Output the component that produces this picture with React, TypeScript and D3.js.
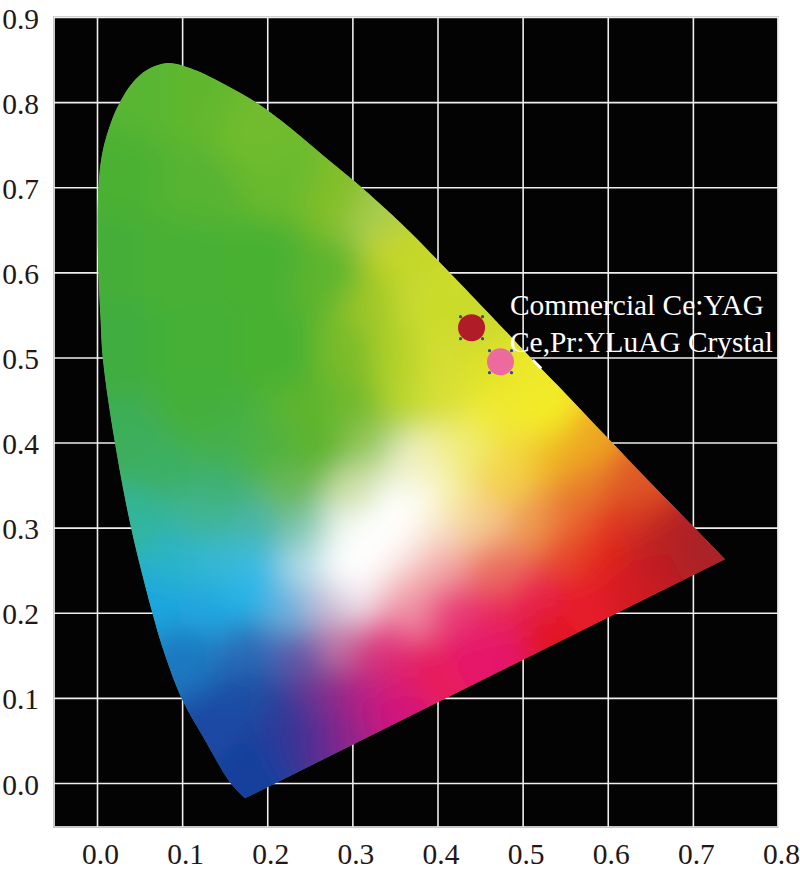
import React, { useEffect, useRef } from 'react';
import * as d3 from 'd3';

// spectral locus, from the violet corner round to the red corner
const locusX = [
  0.174, 0.156, 0.127, 0.1, 0.078, 0.065, 0.04, 0.021, 0.007, 0.004, 0.001, 0.002, 0.007, 0.019, 0.028, 0.041, 0.059,
  0.083, 0.109, 0.148, 0.188, 0.227, 0.265, 0.305, 0.344, 0.368, 0.415, 0.462, 0.482, 0.512, 0.552, 0.599, 0.65, 0.7, 0.738,
];
const locusY = [
  -0.018, 0.001, 0.05, 0.098, 0.156, 0.2, 0.3, 0.4, 0.497, 0.548, 0.626, 0.705, 0.744, 0.783, 0.802, 0.822, 0.838,
  0.846, 0.84, 0.822, 0.799, 0.77, 0.738, 0.705, 0.67, 0.647, 0.599, 0.55, 0.529, 0.497, 0.456, 0.4065, 0.353, 0.302, 0.263,
];

// colour samples inside the diagram
const fieldX = [
  0.06, 0.11, 0.18, 0.03, 0.12, 0.22, 0.29, 0.32, 0.01, 0.1, 0.2, 0.28, 0.35, 0.33, 0.37, 0.41, 0.44,
  0.02, 0.12, 0.22, 0.3, 0.35, 0.4, 0.46, 0.5, 0.12, 0.25, 0.305, 0.364, 0.395, 0.473, 0.52,
  0.03, 0.07, 0.148, 0.15, 0.2, 0.265, 0.32, 0.364, 0.395, 0.435, 0.49, 0.532, 0.57,
  0.227, 0.305, 0.345, 0.385, 0.415, 0.473, 0.571, 0.62, 0.63,
  0.05, 0.13, 0.188, 0.247, 0.29, 0.33, 0.395, 0.453, 0.512, 0.56, 0.6, 0.65, 0.7,
  0.09, 0.14, 0.188, 0.247, 0.285, 0.33, 0.364, 0.395, 0.473, 0.552, 0.599, 0.65,
  0.07, 0.125, 0.183, 0.23, 0.27, 0.305, 0.352, 0.364, 0.415, 0.473, 0.512, 0.571, 0.63,
  0.105, 0.183, 0.242, 0.282, 0.32, 0.344, 0.36, 0.4, 0.435, 0.473, 0.524,
  0.144, 0.183, 0.223, 0.262, 0.3, 0.34, 0.183, 0.242, 0.27, 0.3,
  0.31, 0.36, 0.31, 0.38,
];
const fieldY = [
  0.8, 0.8, 0.76, 0.72, 0.7, 0.7, 0.68, 0.665, 0.62, 0.62, 0.62, 0.6, 0.62, 0.57, 0.57, 0.56, 0.53,
  0.5, 0.5, 0.5, 0.5, 0.5, 0.5, 0.49, 0.47, 0.44, 0.44, 0.44, 0.45, 0.45, 0.43, 0.43,
  0.4, 0.37, 0.352, 0.4, 0.39, 0.39, 0.4, 0.375, 0.38, 0.39, 0.39, 0.383, 0.39,
  0.34, 0.344, 0.32, 0.34, 0.332, 0.352, 0.352, 0.35, 0.315,
  0.31, 0.312, 0.3, 0.294, 0.29, 0.28, 0.294, 0.305, 0.305, 0.31, 0.3, 0.289, 0.277,
  0.26, 0.26, 0.254, 0.254, 0.258, 0.25, 0.27, 0.254, 0.254, 0.274, 0.262, 0.25,
  0.21, 0.203, 0.223, 0.203, 0.21, 0.22, 0.235, 0.2, 0.2, 0.195, 0.215, 0.215, 0.235,
  0.153, 0.153, 0.153, 0.165, 0.145, 0.171, 0.145, 0.136, 0.156, 0.156, 0.176,
  0.066, 0.106, 0.086, 0.106, 0.106, 0.086, 0.027, 0.059, 0.059, 0.066,
  0.29, 0.31, 0.25, 0.31,
];
const fieldColour = [
  '#58b631', '#60b72f', '#6fbb2d', '#4cb133', '#56b431', '#6aba2d', '#84bf2a', '#a8cc50', '#45ae37', '#46b035', '#4ab133', '#5fb52f', '#c4d62c', '#a0c82a', '#c8da2e', '#ccdc2c', '#cbd92d',
  '#40ad3f', '#45b035', '#4ab132', '#7abc2c', '#b0d02c', '#d4de30', '#e0e22c', '#eee82c', '#44af3a', '#5db52e', '#72b92d', '#b8d62e', '#d8e038', '#f0ea30', '#f4ec28',
  '#3cae5a', '#3caf62', '#3fb070', '#45b048', '#50b240', '#5fb42f', '#96c85a', '#eaefc8', '#f4f0a8', '#f0ec70', '#f2da40', '#f0b828', '#efa824',
  '#6ab85a', '#cfe0a8', '#ffffff', '#fbfbe6', '#f6eca0', '#f4d050', '#e8802a', '#e05a26', '#d83c22',
  '#33b59b', '#3fb592', '#48b6a8', '#85c9b6', '#f0f7f0', '#ffffff', '#f8dcc8', '#f5c890', '#ee9a50', '#e86c30', '#e23020', '#bf2424', '#ac2228',
  '#2cb4c8', '#34b8d4', '#3ebbe2', '#b0dce8', '#ffffff', '#fffdfc', '#fbeeea', '#f2a8a8', '#ea7060', '#e64a2c', '#e0201a', '#c01e24',
  '#1ea6de', '#20a6e0', '#28b4e8', '#6db0dc', '#c8c0d8', '#f0e4ec', '#f2b8b8', '#f090a8', '#e8407a', '#e8285c', '#e8204e', '#e61a2a', '#d01c24',
  '#1d78c0', '#2a6cb8', '#6058a8', '#c078a8', '#d0307e', '#e54086', '#e0206e', '#e81a5c', '#e6186c', '#e5186a', '#e01420',
  '#1a4aa4', '#1c50a4', '#2e3a98', '#74308f', '#a82088', '#d0187c', '#14409c', '#3a3094', '#6a2a90', '#9a2088',
  '#ffffff', '#ffffff', '#ffffff', '#fdfbee',
];

const commercialPoint = [0.44, 0.535];
const crystalPoint = [0.474, 0.495];
const pointLabels = ['Commercial Ce:YAG', 'Ce,Pr:YLuAG Crystal'];
const tickValues = [0, 0.1, 0.2, 0.3, 0.4, 0.5, 0.6, 0.7, 0.8];
const yTickValues = [0, 0.1, 0.2, 0.3, 0.4, 0.5, 0.6, 0.7, 0.8, 0.9];
// small white scrap left over from the label box, under the second label
const scrapX = [0.512, 0.522];
const scrapY = [0.497, 0.487];

const serif = '"Liberation Serif", serif';

const App = () => {
  const svgRef = useRef<SVGSVGElement | null>(null);

  useEffect(() => {
    const svg = d3.select(svgRef.current);
    svg.selectAll('*').remove();

    const left = 54;
    const right = 778;
    const top = 17;
    const bottom = 827;

    const x = d3.scaleLinear().domain([0, 0.8]).range([97, 778]);
    const y = d3.scaleLinear().domain([0, 0.9]).range([783, 17]);

    // frame
    svg.append('rect')
      .attr('x', left).attr('y', top)
      .attr('width', right - left).attr('height', bottom - top)
      .attr('fill', '#040304')
      .attr('stroke', '#c8c8c8').attr('stroke-width', 2);

    // grid, made from the axes' ticks
    const xAxis = d3.axisBottom(x).tickValues(tickValues).tickFormat(d3.format('.1f')).tickSize(-(bottom - top));
    const yAxis = d3.axisLeft(y).tickValues(yTickValues).tickFormat(d3.format('.1f')).tickSize(-(right - left));

    const xG = svg.append('g').attr('transform', `translate(0,${bottom})`).call(xAxis);
    const yG = svg.append('g').attr('transform', `translate(${left},0)`).call(yAxis);

    [xG, yG].forEach(g => {
      g.select('.domain').remove();
      g.selectAll('line').attr('stroke', '#eeeeee').attr('stroke-width', 1.6);
      g.selectAll('text')
        .attr('font-family', serif)
        .attr('font-size', 29.5)
        .attr('fill', '#231815');
    });
    xG.selectAll('text').attr('dx', 3).attr('dy', 0).attr('y', 37);
    yG.selectAll('text').attr('dy', 11).attr('x', -15);

    // colour field: voronoi cells of the samples, blurred, clipped to the locus
    const defs = svg.append('defs');
    defs.append('filter')
      .attr('id', 'soft')
      .attr('filterUnits', 'userSpaceOnUse')
      .attr('x', 0).attr('y', 0).attr('width', 800).attr('height', 874)
      .append('feGaussianBlur')
      .attr('stdDeviation', 15);

    const locusLine = d3.line<number>()
      .x(d => x(locusX[d]))
      .y(d => y(locusY[d]))
      .curve(d3.curveCatmullRom);
    const locusPath = locusLine(d3.range(locusX.length)) + 'Z';

    defs.append('clipPath').attr('id', 'locus')
      .append('path').attr('d', locusPath);

    const delaunay = d3.Delaunay.from(fieldX.map((d, i) => [x(d), y(fieldY[i])]));
    const voronoi = delaunay.voronoi([-100, -100, 900, 974]);

    const field = svg.append('g').attr('clip-path', 'url(#locus)');
    field.append('path').attr('d', locusPath).attr('fill', '#4cae32');
    field.append('g')
      .attr('filter', 'url(#soft)')
      .selectAll('path')
      .data(fieldColour)
      .enter()
      .append('path')
      .attr('d', (_, i) => voronoi.renderCell(i))
      .attr('fill', d => d)
      .attr('stroke', d => d);

    svg.append('line')
      .attr('x1', x(scrapX[0])).attr('y1', y(scrapY[0]))
      .attr('x2', x(scrapX[1])).attr('y2', y(scrapY[1]))
      .attr('stroke', '#ffffff')
      .attr('stroke-width', 2.5);

    // the two measured points, with their selection handles
    const marks = [
      { point: commercialPoint, fill: '#b01c28' },
      { point: crystalPoint, fill: '#ec6a9e' },
    ];
    marks.forEach(m => {
      const cx = x(m.point[0]);
      const cy = y(m.point[1]);
      svg.append('circle').attr('cx', cx).attr('cy', cy).attr('r', 13.5).attr('fill', m.fill);
      [[-1, -1], [1, -1], [-1, 1], [1, 1]].forEach(c => {
        svg.append('circle')
          .attr('cx', cx + c[0] * 11)
          .attr('cy', cy + c[1] * 11)
          .attr('r', 1.6)
          .attr('fill', '#2a4aa8');
      });
    });

    // point labels
    svg.selectAll('.point-label')
      .data(pointLabels)
      .enter()
      .append('text')
      .attr('class', 'point-label')
      .attr('x', 510)
      .attr('y', (_, i) => 315 + i * 37)
      .attr('font-family', serif)
      .attr('font-size', 29.4)
      .attr('fill', '#ffffff')
      .text(d => d);
  }, []);

  return (
    <svg
      ref={svgRef}
      width={800}
      height={874}
      style={{ position: 'absolute', left: 0, top: 0, background: '#fff' }}
    />
  );
};

export default App;
